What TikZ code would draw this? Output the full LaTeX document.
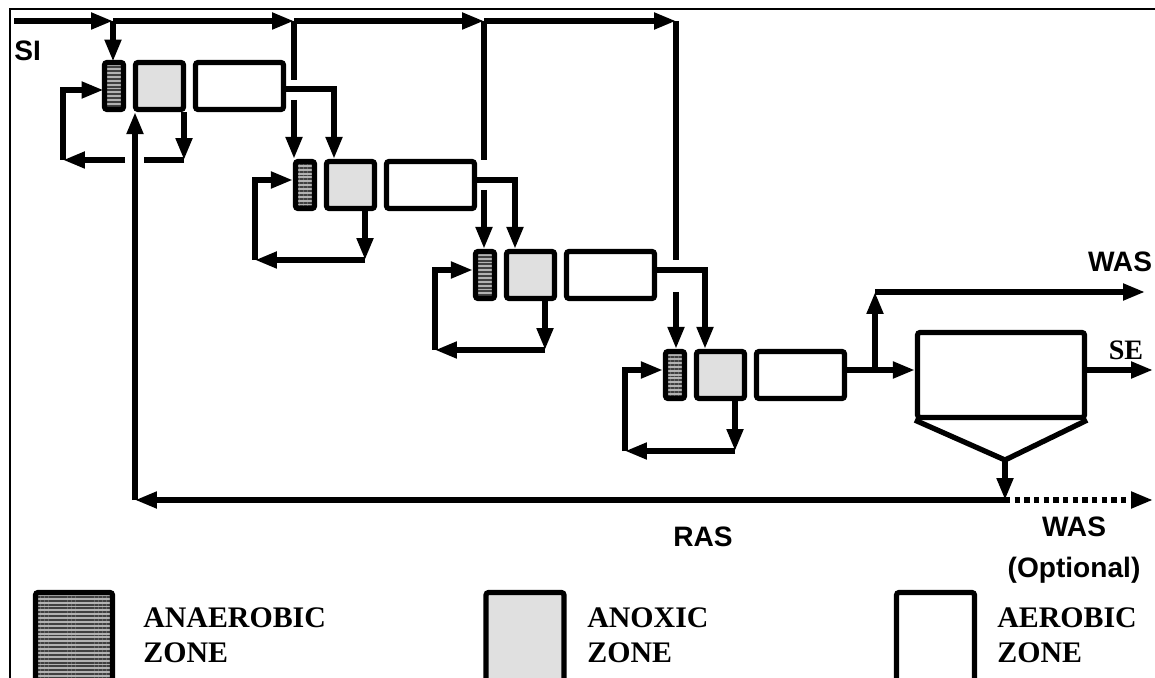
\documentclass[tikz,border=0pt]{standalone}
\usepackage{fontspec}
\setmainfont{Liberation Serif}
\setsansfont{Liberation Sans}
\usepackage{tikz}
\usetikzlibrary{arrows.meta}
\usetikzlibrary{patterns.meta}

\begin{document}
\begin{tikzpicture}[
        x=0.02cm, y=-0.02cm,
        >={Triangle[length=12.5pt, width=9pt]},
        zone/.style={rectangle, draw=black, line width=3pt, rounded corners=1.5pt, inner sep=0pt, minimum height=0.94cm},
        anaerobic/.style={zone, minimum width=0.38cm, preaction={fill=black!30}, pattern={Lines[angle=0, distance=2.2pt, line width=1.1pt]}, pattern color=black!75},
        anoxic/.style={zone, fill=black!12, minimum width=0.96cm},
        aerobic/.style={zone, fill=white, minimum width=1.76cm},
        pipe/.style={draw, line width=3pt},
        flow/.style={draw, line width=3pt, ->},
        flowtext/.style={font=\sffamily\bfseries\fontsize{16}{23}\selectfont, inner sep=0pt, align=center},
        zonetext/.style={font=\bfseries\fontsize{17}{19.8}\selectfont, inner sep=0pt, align=left, anchor=west}
    ]
    \useasboundingbox (0,0) rectangle (1155,678);
    \clip (0,0) rectangle (1155,678);

    % --- 0. FRAME ---
    \draw[line width=1pt] (10,700) -- (10,9) -- (1170,9);

    % --- 1. STAGES ---
    \node[anaerobic] (an1) at (114,86) {};
    \node[anoxic] (ox1) at (159.5,86) {};
    \node[aerobic] (ae1) at (239.5,86) {};

    \node[anaerobic] (an2) at (305,185) {};
    \node[anoxic] (ox2) at (350.5,185) {};
    \node[aerobic] (ae2) at (430.5,185) {};

    \node[anaerobic] (an3) at (485,275) {};
    \node[anoxic] (ox3) at (530.5,275) {};
    \node[aerobic] (ae3) at (610.5,275) {};

    \node[anaerobic] (an4) at (675,375) {};
    \node[anoxic] (ox4) at (720.5,375) {};
    \node[aerobic] (ae4) at (800.5,375) {};

    % clarifier
    \node[zone, fill=white, minimum width=3.34cm, minimum height=1.7cm] (clar) at (1001,375) {};
    \coordinate (apex) at (1005,460);
    \draw[pipe] (clar.south west) -- (apex) -- (clar.south east);

    % --- 2. STEP FEED (SI) ---
    \coordinate (si) at (14,21);
    \coordinate (j1) at (113,21);
    \coordinate (j2) at (294,21);
    \coordinate (j3) at (484,21);
    \coordinate (j4) at (676,21);
    \draw[flow] (si) -- (j1);
    \draw[flow] (j1) -- (j2);
    \draw[flow] (j2) -- (j3);
    \draw[flow] (j3) -- (j4);

    \coordinate (g2t) at (294,80);  \coordinate (g2b) at (294,100);
    \coordinate (g3t) at (484,160); \coordinate (g3b) at (484,190);
    \coordinate (g4t) at (676,260); \coordinate (g4b) at (676,292);

    \draw[flow] (j1) -- (j1 |- an1.north);
    \draw[pipe] (j2) -- (g2t); \draw[flow] (g2b) -- (g2b |- an2.north);
    \draw[pipe] (j3) -- (g3t); \draw[flow] (g3b) -- (g3b |- an3.north);
    \draw[pipe] (j4) -- (g4t); \draw[flow] (g4b) -- (g4b |- an4.north);

    % --- 3. STAGE TO STAGE ---
    \coordinate (t2) at (334,89);
    \coordinate (t3) at (515,180);
    \coordinate (t4) at (705,270);
    \draw[flow] (ae1.east |- t2) -- (t2) -- (t2 |- ox2.north);
    \draw[flow] (ae2.east |- t3) -- (t3) -- (t3 |- ox3.north);
    \draw[flow] (ae3.east |- t4) -- (t4) -- (t4 |- ox4.north);

    % --- 4. INTERNAL RECYCLE ---
    \coordinate (r1a) at (184,160); \coordinate (r1b) at (63,160); \coordinate (r1c) at (63,90);
    \coordinate (x1r) at (144,160); \coordinate (x1l) at (125,160);
    \draw[flow] (r1a |- ox1.south) -- (r1a);
    \draw[pipe] (r1a) -- (x1r);
    \draw[flow] (x1l) -- (r1b);
    \draw[flow] (r1b) -- (r1c) -- (r1c -| an1.west);

    \coordinate (r2a) at (365,260); \coordinate (r2b) at (255,260); \coordinate (r2c) at (255,180);
    \draw[flow] (r2a |- ox2.south) -- (r2a);
    \draw[flow] (r2a) -- (r2b);
    \draw[flow] (r2b) -- (r2c) -- (r2c -| an2.west);

    \coordinate (r3a) at (545,350); \coordinate (r3b) at (435,350); \coordinate (r3c) at (435,270);
    \draw[flow] (r3a |- ox3.south) -- (r3a);
    \draw[flow] (r3a) -- (r3b);
    \draw[flow] (r3b) -- (r3c) -- (r3c -| an3.west);

    \coordinate (r4a) at (735,451); \coordinate (r4b) at (625,451); \coordinate (r4c) at (625,370);
    \draw[flow] (r4a |- ox4.south) -- (r4a);
    \draw[flow] (r4a) -- (r4b);
    \draw[flow] (r4b) -- (r4c) -- (r4c -| an4.west);

    % --- 5. CLARIFIER, WAS, SE, RAS ---
    \coordinate (b4) at (875,370);
    \coordinate (w1) at (875,292);
    \coordinate (w2) at (1145,292);
    \coordinate (se) at (1153,370);
    \draw[flow] (ae4.east |- b4) -- (clar.west |- b4);
    \draw[flow] (b4) -- (w1);
    \draw[flow] (w1) -- (w2);
    \draw[flow] (clar.east |- se) -- (se);

    \coordinate (ras) at (1005,500);
    \coordinate (rasl) at (135,500);
    \coordinate (wasx) at (1153,500);
    \draw[flow] (apex) -- (ras);
    \draw[flow] (ras) -- (rasl);
    \draw[flow] (rasl) -- (rasl |- ox1.south);
    \draw[flow, dash pattern=on 3pt off 2.5pt] (ras) -- (wasx);

    % --- 6. LABELS ---
    \node[flowtext, anchor=west] (si-label) at (14,51) {SI};
    \node[flowtext] (was-label) at (1120,262) {WAS};
    \node[font=\bfseries\fontsize{16}{18}\selectfont, inner sep=0pt] (se-label) at (1126,350) {SE};
    \node[flowtext] (ras-label) at (703,537) {RAS};
    \node[flowtext] (was-opt) at (1074,550) {WAS\\(Optional)};

    % --- 7. LEGEND ---
    \node[anaerobic, minimum width=1.54cm, minimum height=2.6cm] (leg-an) at (74,657.5) {};
    \node[anoxic, minimum width=1.56cm, minimum height=2.6cm] (leg-ox) at (525,657.5) {};
    \node[aerobic, minimum width=1.56cm, minimum height=2.6cm] (leg-ae) at (935.5,657.5) {};

    \node[zonetext] (leg-an-text) at (143,635) {ANAEROBIC\\ZONE};
    \node[zonetext] (leg-ox-text) at (587,635) {ANOXIC\\ZONE};
    \node[zonetext] (leg-ae-text) at (997,635) {AEROBIC\\ZONE};

\end{tikzpicture}
\end{document}
